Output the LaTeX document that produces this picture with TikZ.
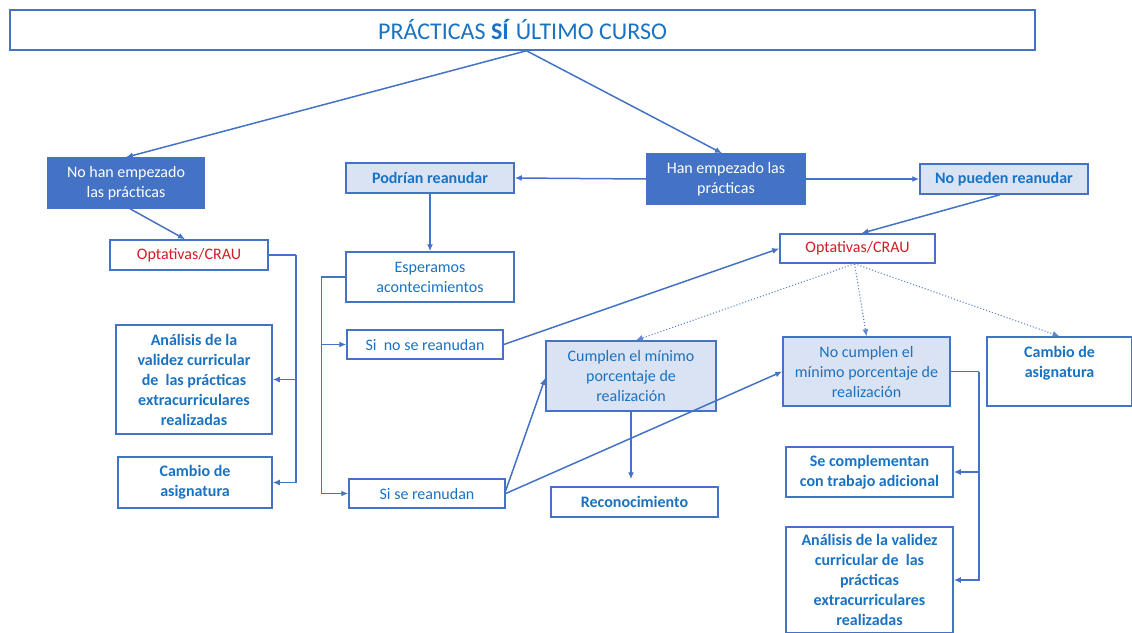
\documentclass[tikz,border=0pt]{standalone}
\usepackage{fontspec}
\setmainfont{Carlito}
\usetikzlibrary{arrows.meta}
\definecolor{lineblue}{HTML}{4472C4}
\definecolor{txtblue}{HTML}{1A72C2}
\definecolor{lightfill}{HTML}{DAE3F3}
\definecolor{redtxt}{HTML}{D01F24}
\begin{document}
\begin{tikzpicture}[x=1pt,y=-1pt,
 box/.style={draw=lineblue, line width=1.5pt, fill=white, align=center, inner sep=2pt, text=txtblue, font=\fontsize{16}{20}\selectfont},
 bbox/.style={box, font=\fontsize{16}{20}\selectfont\bfseries},
 lbox/.style={bbox, fill=lightfill},
 lrbox/.style={box, fill=lightfill},
 dbox/.style={box, fill=lineblue, text=white},
 conn/.style={draw=lineblue, line width=1.5pt, -{Latex[length=7pt,width=6pt]}},
 plain/.style={draw=lineblue, line width=1.5pt},
 dconn/.style={draw=lineblue!85, line width=1.1pt, dotted, -{Latex[length=7pt,width=6pt]}},
]
\useasboundingbox (0,0) rectangle (1132,632);

\node[box, minimum width=1025, minimum height=40, font=\fontsize{24}{28}\selectfont] (title) at (522.5,30) {PRÁCTICAS \textbf{SÍ} ÚLTIMO CURSO};

\node[dbox, minimum width=156, minimum height=50] (nohan) at (126,183) {No han empezado\\las prácticas};
\node[box, minimum width=158, minimum height=30, text=redtxt] (optL) at (189,255) {Optativas/CRAU};
\node[bbox, minimum width=156, minimum height=109] (anaL) at (194,379.5) {Análisis de la\\validez curricular\\de\ \ las prácticas\\extracurriculares\\realizadas};
\node[bbox, minimum width=154, minimum height=51] (camL) at (195,482.5) {Cambio de\\asignatura};

\node[lbox, minimum width=168, minimum height=30] (podr) at (430,178) {Podrían reanudar};
\node[dbox, minimum width=158, minimum height=50] (han) at (726,179) {Han empezado las\\prácticas};
\node[lbox, minimum width=168, minimum height=30] (nopue) at (1004,179) {No pueden reanudar};

\node[box, minimum width=168, minimum height=50] (esp) at (430,277) {Esperamos\\acontecimientos};
\node[box, minimum width=155, minimum height=29, text=redtxt] (optR) at (857.5,248.5) {Optativas/CRAU};
\node[box, minimum width=156, minimum height=29] (sino) at (425,344.5) {Si\ \ no se reanudan};
\node[box, minimum width=156, minimum height=29] (sise) at (427,493.5) {Si se reanudan};

\node[lrbox, minimum width=170, minimum height=70] (cump) at (631,376) {Cumplen el mínimo\\porcentaje de\\realización};
\node[lrbox, minimum width=167, minimum height=69] (nocump) at (866.5,371.5) {No cumplen el\\mínimo porcentaje de\\realización};
\node[bbox, minimum width=145, minimum height=69] (camR) at (1059.5,371.5) {Cambio de\\asignatura\\\mbox{}};

\node[bbox, minimum width=167, minimum height=50] (secomp) at (869.5,472) {Se complementan\\con trabajo adicional};
\node[bbox, minimum width=167, minimum height=30] (recon) at (634.5,502) {Reconocimiento};
\node[bbox, minimum width=167, minimum height=106] (anaR) at (869.5,580) {Análisis de la validez\\curricular de\ \ las\\prácticas\\extracurriculares\\realizadas};

% connectors
\draw[conn] ([xshift=4pt]title.south) -- (nohan.north);
\draw[conn] ([xshift=4pt]title.south) -- ([xshift=-4pt]han.north);
\draw[conn] ([xshift=4pt]nohan.south) -- ([xshift=-4pt]optL.north);
\draw[plain] (optL.east) -- ++(27,0) coordinate (jL);
\draw[conn] (jL) |- (anaL.east);
\draw[conn] (jL) |- (camL.east);

\draw[conn] (han.west) -- (podr.east);
\draw[conn] (han.east) -- (nopue.west);
\draw[conn] ([xshift=-4pt]nopue.south) -- ([xshift=4pt]optR.north);
\draw[conn] (podr.south) -- (esp.north);
\draw[plain] (esp.west) -- ++(-24,0) coordinate (jM);
\draw[conn] (jM) |- (sino.west);
\draw[conn] (jM) |- (sise.west);

\draw[conn] (sino.east) -- (optR.west);
\draw[conn] ([yshift=3pt]sise.east) -- ([yshift=-2pt]cump.west);
\draw[conn] (sise.east) -- (nocump.west);

\draw[dconn] ([xshift=-3pt]optR.south) -- ([xshift=5pt]cump.north);
\draw[dconn] ([xshift=-3pt]optR.south) -- (nocump.north);
\draw[dconn] ([xshift=-3pt]optR.south) -- (camR.north);

\draw[conn] (cump.south) -- ([yshift=7pt]recon.north -| cump.south);
\draw[plain] (nocump.east) -- ++(28,0) coordinate (jR);
\draw[conn] (jR) |- (secomp.east);
\draw[conn] (jR) |- (anaR.east);
\end{tikzpicture}
\end{document}
